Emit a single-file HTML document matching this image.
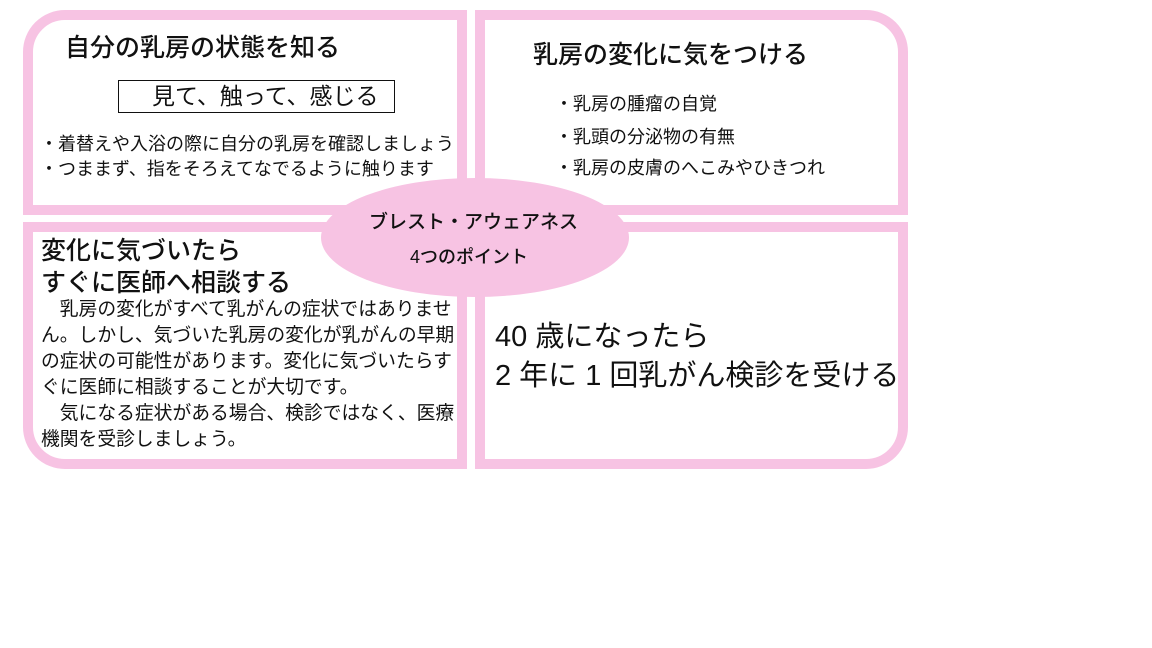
<!DOCTYPE html>
<html><head><meta charset="utf-8"><style>
body{margin:0;width:1152px;height:648px;background:#fff;position:relative;overflow:hidden;font-family:"Liberation Sans","Noto Sans CJK JP",sans-serif;color:#111}
.p{position:absolute;border:10px solid #f7c3e3;box-sizing:border-box;background:#fff}
.t{position:absolute;white-space:nowrap;line-height:1}
</style></head><body>
<div class="p" style="left:23px;top:10px;width:444px;height:205px;border-top-left-radius:42px"></div>
<div class="p" style="left:475px;top:10px;width:433px;height:205px;border-top-right-radius:42px"></div>
<div class="p" style="left:23px;top:222px;width:444px;height:247px;border-bottom-left-radius:42px"></div>
<div class="p" style="left:475px;top:222px;width:433px;height:247px;border-bottom-right-radius:42px"></div>
<div style="position:absolute;left:321px;top:178px;width:308px;height:119px;border-radius:50%;background:#f7c3e3"></div>

<div class="t" style="left:65px;top:36px;font-size:25px;font-weight:500">自分の乳房の状態を知る</div>
<div style="position:absolute;left:118px;top:80px;width:277px;height:33px;border:1px solid #111;box-sizing:border-box"></div>
<div class="t" style="left:152px;top:85px;font-size:23px">見て、触って、感じる</div>
<div class="t" style="left:40px;top:135px;font-size:18px">・着替えや入浴の際に自分の乳房を確認しましょう</div>
<div class="t" style="left:40px;top:160px;font-size:18px">・つままず、指をそろえてなでるように触ります</div>

<div class="t" style="left:533px;top:43px;font-size:25px;font-weight:500">乳房の変化に気をつける</div>
<div class="t" style="left:555px;top:95px;font-size:18px">・乳房の腫瘤の自覚</div>
<div class="t" style="left:555px;top:128px;font-size:18px">・乳頭の分泌物の有無</div>
<div class="t" style="left:555px;top:159px;font-size:18px">・乳房の皮膚のへこみやひきつれ</div>

<div class="t" style="left:369px;top:213px;font-size:19px;font-weight:500">ブレスト・アウェアネス</div>
<div class="t" style="left:410px;top:248px;font-size:18px;font-weight:500">4つのポイント</div>

<div class="t" style="left:41px;top:235px;font-size:25px;font-weight:500;line-height:32px">変化に気づいたら<br>すぐに医師へ相談する</div>
<div class="t" style="left:41px;top:296px;font-size:18.8px;line-height:26px">　乳房の変化がすべて乳がんの症状ではありませ<br>ん。しかし、気づいた乳房の変化が乳がんの早期<br>の症状の可能性があります。変化に気づいたらす<br>ぐに医師に相談することが大切です。<br>　気になる症状がある場合、検診ではなく、医療<br>機関を受診しましょう。</div>

<div class="t" style="left:495px;top:318px;font-size:29px;line-height:39px">40 歳になったら<br>2 年に 1 回乳がん検診を受ける</div>
</body></html>
